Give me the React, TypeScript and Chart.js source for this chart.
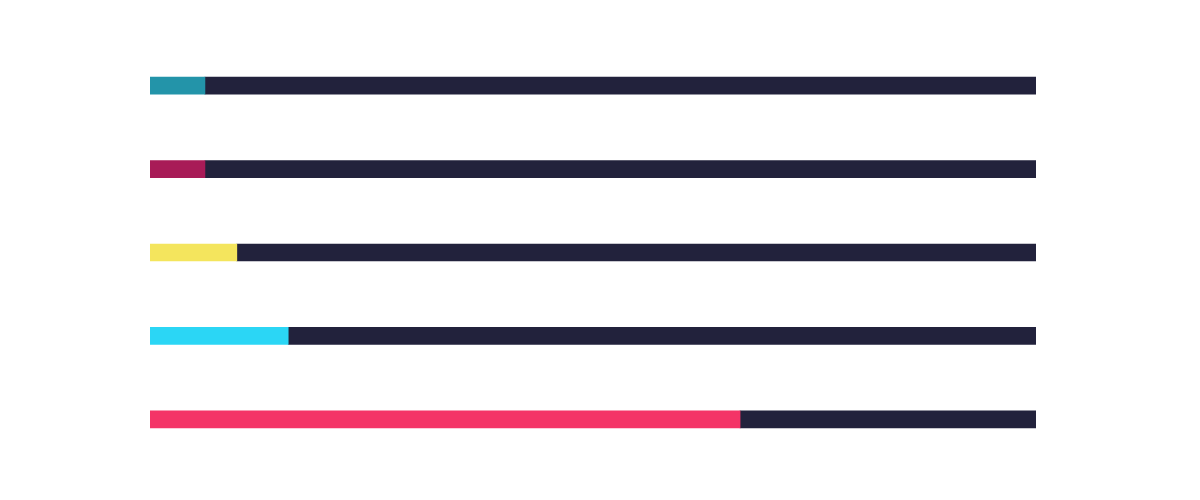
import React, { useEffect, useRef } from "react";
import { Chart, registerables } from "chart.js";

Chart.register(...registerables);

const categories = ["A", "B", "C", "D", "E"];
const filledValues = [6.2, 6.2, 9.8, 15.6, 66.6];
const totalValue = 100;
const remainderValues = filledValues.map((v) => totalValue - v);
const filledColors = ["#2394A9", "#A81B57", "#F4E55D", "#2BD6F5", "#F43467"];
const trackColor = "#22223C";

export default function App() {
  const ref = useRef<HTMLCanvasElement | null>(null);
  useEffect(() => {
    if (!ref.current) return;
    const chart = new Chart(ref.current, {
      type: "bar",
      data: {
        labels: categories,
        datasets: [
          {
            data: filledValues,
            backgroundColor: filledColors,
            borderWidth: 0,
            barThickness: 17,
          },
          {
            data: remainderValues,
            backgroundColor: trackColor,
            borderWidth: 0,
            barThickness: 17,
          },
        ],
      },
      options: {
        indexAxis: "y",
        animation: false,
        responsive: false,
        maintainAspectRatio: false,
        layout: { padding: { left: 150, right: 164, top: 44, bottom: 39 } },
        plugins: { legend: { display: false }, tooltip: { enabled: false } },
        scales: {
          x: { stacked: true, min: 0, max: totalValue, display: false },
          y: { stacked: true, display: false },
        },
      },
    });
    return () => chart.destroy();
  }, []);
  return (
    <div style={{ position: "absolute", left: 0, top: 0, width: 1200, height: 500, background: "#fff" }}>
      <canvas ref={ref} width={1200} height={500} style={{ width: 1200, height: 500 }} />
    </div>
  );
}
